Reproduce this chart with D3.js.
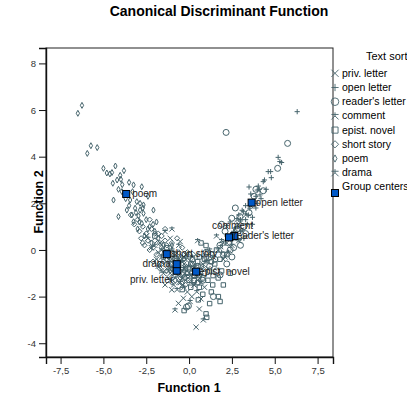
<!DOCTYPE html>
<html>
<head>
<meta charset="utf-8">
<script src="https://cdn.jsdelivr.net/npm/d3@7"></script>
<style>
  body { margin: 0; background: #fff; }
  svg { display: block; font-family: "Liberation Sans", Arial, sans-serif; }
</style>
</head>
<body>
<div id="chart"></div>
<script>
// groups (legend order) and their symbols
var groups = ["priv. letter", "open letter", "reader's letter", "comment", "epist. novel", "short story", "poem", "drama"];
var symbols = ["x", "plus", "circle", "ast", "square", "diamond", "narrow", "ast"];

var xTicks = [-7.5, -5.0, -2.5, 0.0, 2.5, 5.0, 7.5];
var yTicks = [-4, -2, 0, 2, 4, 6, 8];

// group centroids [function 1, function 2]
var centers = [[-0.72, -0.89], [3.65, 2.03], [2.64, 0.60], [2.33, 0.54], [0.41, -0.93], [-1.30, -0.18], [-3.67, 2.40], [-0.72, -0.61]];

// case scores per group
var privLetter = [[-0.52,0.36],[-1.01,-1.71],[-0.62,-2.29],[0.6,-2.53],[0.41,-3.31],[0.16,-2.0],[-0.33,-2.07],[-1.3,-0.5],[-1.6,-0.9],[-0.9,-0.6],[-0.5,-1.0],[-0.2,-1.3],[-1.2,-1.2],[-0.8,-0.2],[0.1,-0.5],[0.3,-1.5],[-1.9,-0.4],[-1.4,-1.5],[-0.6,-1.4],[0.6,-1.0],[-2.2,0.1],[-1.0,-0.9],[-0.3,-0.6],[0.9,-1.6],[1.4,-0.3],[-1.7,0.3],[-0.1,-1.8],[2.0,-0.4],[-1.1,0.5],[0.4,-0.2],[2.9,1.1],[2.2,0.3],
  [-0.7,-0.7],[-0.4,-0.9],[-1.0,-0.4],[0.0,-1.0],[-0.8,-1.2],[0.2,-0.8],[-1.3,-0.8],[-0.6,-0.4],[0.5,-1.3],[-0.2,-0.2],[-1.5,-0.1],[0.8,-0.6],[-0.4,-1.5],[0.1,-1.4],[-0.9,-1.5],
  [-1.1,-1.0],[-0.3,-0.3],[0.4,-1.1],[-0.6,-1.1],[1.1,-0.8],[-1.8,-0.1],[-2.5,0.6],[0.7,-2.1]];
var openLetter = [[6.31,5.93],[5.2,3.97],[5.3,3.79],[5.4,3.75],[4.76,3.36],[4.62,3.36],[4.33,2.93],[4.04,2.74],[3.98,2.57],[4.14,2.36],[3.17,1.64],[3.55,1.79],[3.46,1.5],[3.8,2.1],[3.6,2.4],[3.3,1.9],[3.9,1.8],[4.2,2.2],[3.0,1.3],[3.7,1.4],[4.5,2.6],[2.8,1.0],[3.4,1.1],[3.1,1.7],[4.0,2.0],[2.6,0.8],[3.2,0.5],[2.4,1.2],[4.4,3.0],[3.5,2.7],[2.2,0.6],[1.9,-0.1],[3.7,1.1],[4.8,3.1],
  [2.9,1.5],[3.3,1.3],[3.9,2.3],[2.5,0.4],[4.1,2.6],[3.0,0.8]];
var readersLetter = [[2.16,5.04],[5.75,4.57],[5.17,3.5],[4.33,2.54],[2.49,1.36],[2.97,1.43],[-0.04,-2.4],[1.42,-2.0],[1.81,-1.07],[2.3,0.3],[2.6,0.1],[2.9,0.5],[3.2,1.0],[2.1,0.8],[1.8,0.2],[2.5,-0.3],[3.5,1.6],[1.5,-0.4],[2.8,0.9],[3.0,0.2],[1.2,-0.7],[2.2,-0.6],[3.8,2.3],[0.8,-1.3],[1.9,1.1],[3.3,0.7],[2.7,1.8],[0.3,-1.1],[-0.15,-2.45],[2.0,-0.2],[1.0,-0.1],
  [1.6,-0.9],[2.4,0.0],[1.3,-0.2],[2.6,0.6],[0.5,-0.7],[3.9,2.6]];
var comment = [[2.0,0.3],[2.4,0.6],[2.7,0.9],[1.7,0.0],[2.2,1.0],[3.0,1.2],[1.85,0.14],[1.4,-0.3],[2.5,0.2],[3.3,1.5],[2.1,-0.3],[1.0,-0.5],[2.9,0.4],[3.6,1.9],[1.6,0.6],[2.3,-0.1],[0.5,0.4],[-1.0,0.9],[3.1,0.8],
  [1.9,0.4],[2.6,0.5],[1.2,0.0],[2.8,1.3]];
var epistNovel = [[-0.29,-2.6],[0.99,-2.74],[1.03,-2.89],[1.71,-2.0],[1.81,-2.21],[1.38,-1.5],[0.54,-2.14],[0.99,0.19],[0.2,-0.8],[0.5,-0.5],[0.8,-1.2],[1.2,-0.9],[-0.1,-1.0],[0.3,-1.3],[1.5,-0.6],[1.0,-0.3],[-0.5,-0.4],[0.6,-1.6],[1.9,-0.9],[-0.8,-0.9],[0.0,-0.2],[1.3,-1.8],[-1.3,0.1],[-0.4,-1.7],[2.2,-0.2],[0.7,0.3],[-1.0,-0.4],[-2.0,0.6],[1.6,0.0],[0.1,-1.6],[2.4,-1.0],[-1.5,-0.3],
  [0.4,-0.9],[0.7,-0.7],[0.1,-0.6],[0.9,-1.0],[1.1,-1.3],[0.3,-1.1],[-0.2,-0.8],[0.6,-0.3],[1.3,-0.5],[0.5,-1.4],[-0.3,-1.2],[1.7,-1.2],[0.8,-1.9],[1.1,-0.1],[0.2,-0.4],
  [0.0,-1.3],[0.9,-0.4],[1.4,-1.1],[0.6,-1.1],[1.8,-0.4],[-0.6,-0.6],[1.2,-2.3],[2.0,-1.5]];
var shortStory = [[-3.0,1.3],[-2.7,1.0],[-2.5,0.7],[-2.8,0.5],[-2.2,0.9],[-2.0,0.4],[-1.8,0.7],[-1.6,0.1],[-1.4,0.4],[-1.2,-0.1],[-1.0,0.3],[-0.8,-0.2],[-1.5,-0.5],[-1.9,-0.2],[-2.3,0.0],[-1.1,-0.7],[-0.6,-0.5],[-0.3,-0.9],[-0.9,-1.1],[-1.3,-0.9],[0.2,-0.6],[0.5,-1.2],[-0.4,0.1],[-1.7,-0.8],[-0.7,0.5],[-2.6,0.2],[0.0,-0.3],[-1.0,-1.4],[-0.2,-1.5],[0.8,-0.8],[-2.1,-0.5],[-1.4,0.9],[-0.5,-1.2],
  [-1.2,-0.3],[-0.9,-0.5],[-0.6,-0.1],[-0.3,-0.4],[-0.7,-0.8],[-1.4,-0.1],[-1.7,0.3],[-2.0,0.7],[-0.2,-0.7],[0.3,-0.9],[-1.0,-0.8],[-1.3,0.2],[-0.5,-0.3],[0.1,-1.2],[-0.8,-1.3],
  [-3.2,1.1],[-2.9,0.8],[-2.4,0.4],[-2.1,0.1],[-1.9,-0.5],[-2.7,0.3],[-3.4,1.5],[-2.3,1.3],[-1.6,0.6],[-1.1,0.1],[-1.6,-0.6],[-0.1,-0.1]];
var poem = [[-6.25,6.2],[-6.49,5.86],[-5.73,4.47],[-5.36,4.39],[-5.94,4.14],[-4.8,3.3],[-4.62,3.26],[-4.5,3.32],[-4.02,3.2],[-3.98,3.03],[-4.45,2.86],[-3.24,2.79],[-2.76,2.71],[-4.12,2.6],[-3.92,2.5],[-4.41,2.14],[-3.44,2.14],[-3.05,2.07],[-2.86,2.0],[-3.63,1.71],[-3.15,1.79],[-2.86,1.71],[-2.66,1.93],[-2.08,1.71],[-4.12,1.43],[-3.34,1.5],[-2.95,1.46],[-2.66,1.57],[-3.24,1.21],[-2.76,1.14],[-2.5,1.3],[-2.3,1.0],[-2.0,0.8],[-3.0,0.9],[-2.6,0.6],[-1.8,0.5],[-2.2,0.3],[-1.5,0.2],[-3.5,2.9],[-3.8,3.4],[-4.3,3.6],[-5.0,3.5],[-2.4,2.3],[-1.9,1.2],[-1.2,-0.3],[-1.0,0.2],[-3.7,2.2],[-3.3,2.5],
  [-3.1,1.6],[-2.9,1.2],[-2.7,1.8],[-3.5,1.9],[-2.4,0.9],[-2.1,1.1],[-3.9,2.8],[-4.2,3.0]];
var drama = [[-1.4,0.79],[-2.0,0.2],[-1.6,-0.3],[-1.2,-0.6],[-0.9,-0.3],[-0.5,-0.8],[-0.2,-0.4],[-0.8,-1.0],[-1.1,-1.3],[0.1,-1.1],[-0.3,-1.6],[0.4,-0.7],[-1.5,-1.0],[-0.6,0.2],[-0.82,-2.57],[0.06,-2.21],[0.83,-3.0],[0.45,-1.79],[-1.8,-0.7],[-0.4,-1.2],[0.7,-1.4],[-1.0,0.0],[-0.1,-0.9],[-2.4,0.5],[1.1,-0.5],[-0.7,-1.7],
  [-0.8,-0.6],[-0.6,-0.9],[-0.4,-0.5],[-1.0,-0.8],[-0.2,-1.1],[-1.3,-0.3],[0.2,-0.3],[-0.5,-1.4],[0.0,-0.7],[-0.9,-0.1],
  [-1.2,-0.9],[-0.3,-0.8],[0.5,-1.0],[-0.7,-0.4],[-1.6,0.0],[0.3,-1.5]];

var cases = [privLetter, openLetter, readersLetter, comment, epistNovel, shortStory, poem, drama];

var width = 407, height = 397;
var markColor = "#46646c";

var svg = d3.select("#chart").append("svg")
  .attr("width", width)
  .attr("height", height);

var x = d3.scaleLinear().domain([-8.35, 8.4]).range([46, 333]);
var y = d3.scaleLinear().domain([-4.59, 8.66]).range([357, 48]);

function symbolPath(type, r) {
  switch (type) {
    case "x": return "M" + -r + "," + -r + "L" + r + "," + r + "M" + -r + "," + r + "L" + r + "," + -r;
    case "plus": return "M" + -r + ",0H" + r + "M0," + -r + "V" + r;
    case "circle": return "M" + r + ",0A" + r + "," + r + " 0 1 1 " + -r + ",0A" + r + "," + r + " 0 1 1 " + r + ",0";
    case "ast": return "M" + -r + "," + (-r * 0.4) + "H" + r + "M0," + -r + "V" + (r * 0.2) + "M0,0L" + -r + "," + r + "M0,0L" + r + "," + r;
    case "square": var s = r * 0.85; return "M" + -s + "," + -s + "H" + s + "V" + s + "H" + -s + "Z";
    case "diamond": return "M0," + -r + "L" + r + ",0L0," + r + "L" + -r + ",0Z";
    case "narrow": return "M0," + -r + "L" + (r * 0.55) + ",0L0," + r + "L" + (-r * 0.55) + ",0Z";
  }
}

// title
svg.append("text")
  .attr("x", 219).attr("y", 16)
  .attr("text-anchor", "middle")
  .style("font-size", "14px").style("font-weight", "bold")
  .text("Canonical Discriminant Function");

// cases
var pts = svg.append("g").attr("class", "points");
cases.forEach(function(list, gi) {
  var r = symbols[gi] == "circle" ? 3 : 2.6;
  pts.selectAll(".g" + gi)
    .data(list)
    .enter().append("path")
    .attr("class", "g" + gi)
    .attr("transform", function(d) { return "translate(" + x(d[0]) + "," + y(d[1]) + ")"; })
    .attr("d", symbolPath(symbols[gi], symbols[gi] == "narrow" ? 3 : r))
    .attr("fill", "none")
    .attr("stroke", markColor)
    .attr("stroke-width", 1);
});

// frame and axes
svg.append("rect")
  .attr("x", 46).attr("y", 48)
  .attr("width", 287).attr("height", 309)
  .attr("fill", "none").attr("stroke", "#222").attr("stroke-width", 1);

var xAxis = svg.append("g")
  .attr("transform", "translate(0,357)")
  .call(d3.axisBottom(x).tickValues(xTicks).tickSize(7).tickPadding(3)
    .tickFormat(function(d) { return d3.format(".1f")(d).replace(".", ",").replace("−", "-"); }));
var yAxis = svg.append("g")
  .attr("transform", "translate(46,0)")
  .call(d3.axisLeft(y).tickValues(yTicks).tickSize(7).tickPadding(3)
    .tickFormat(function(d) { return d3.format("d")(d).replace("−", "-"); }));
[xAxis, yAxis].forEach(function(a) {
  a.select(".domain").attr("stroke", "#111").attr("stroke-width", 1.4);
  a.selectAll(".tick line").attr("stroke", "#111");
  a.selectAll(".tick text").attr("fill", "#333").style("font-size", "9.5px").style("font-family", "Liberation Sans, Arial, sans-serif");
});

svg.append("text")
  .attr("x", 189).attr("y", 392)
  .attr("text-anchor", "middle")
  .style("font-size", "12.5px").style("font-weight", "bold")
  .text("Function 1");
svg.append("text")
  .attr("transform", "translate(43,202) rotate(-90)")
  .attr("text-anchor", "middle")
  .style("font-size", "12.5px").style("font-weight", "bold")
  .text("Function 2");

// group centroids with labels
var labelPos = {
  "poem": [6, 3.5, "start"], "open letter": [4, 3.5, "start"], "reader's letter": [-1, 3.5, "start"],
  "comment": [-17, -8, "start"], "short story": [4, 3, "start"], "epist. novel": [3, 3, "start"],
  "drama": [-6, 3, "end"], "priv. letter": [-3.5, 12, "end"]
};
var cg = svg.append("g").attr("class", "centers");
cg.selectAll("rect")
  .data(centers)
  .enter().append("rect")
  .attr("x", function(d) { return x(d[0]) - 3.5; })
  .attr("y", function(d) { return y(d[1]) - 3.5; })
  .attr("width", 7).attr("height", 7)
  .attr("fill", "#0058c6").attr("stroke", "#000").attr("stroke-width", 1);
cg.selectAll("text")
  .data(centers)
  .enter().append("text")
  .attr("x", function(d, i) { return x(d[0]) + labelPos[groups[i]][0]; })
  .attr("y", function(d, i) { return y(d[1]) + labelPos[groups[i]][1]; })
  .attr("text-anchor", function(d, i) { return labelPos[groups[i]][2]; })
  .attr("fill", "#222")
  .style("font-size", "10px")
  .text(function(d, i) { return groups[i]; });

// legend
var legend = svg.append("g").attr("class", "legend");
legend.append("text")
  .attr("x", 366).attr("y", 60)
  .style("font-size", "11px")
  .text("Text sort");
var rows = legend.selectAll(".row")
  .data(groups)
  .enter().append("g")
  .attr("class", "row")
  .attr("transform", function(d, i) { return "translate(335," + (73.3 + i * 14.2) + ")"; });
rows.append("path")
  .attr("d", function(d, i) { return symbolPath(symbols[i], symbols[i] == "circle" ? 3.8 : 3.6); })
  .attr("fill", "none").attr("stroke", markColor).attr("stroke-width", 0.9);
rows.append("text")
  .attr("x", 7).attr("y", 3.5)
  .style("font-size", "10.5px")
  .text(function(d) { return d; });
legend.append("rect")
  .attr("x", 331.5).attr("y", 189.5)
  .attr("width", 7).attr("height", 7)
  .attr("fill", "#0058c6").attr("stroke", "#000").attr("stroke-width", 1);
legend.append("text")
  .attr("x", 342).attr("y", 190)
  .style("font-size", "10.5px")
  .text("Group centers");
</script>
</body>
</html>
